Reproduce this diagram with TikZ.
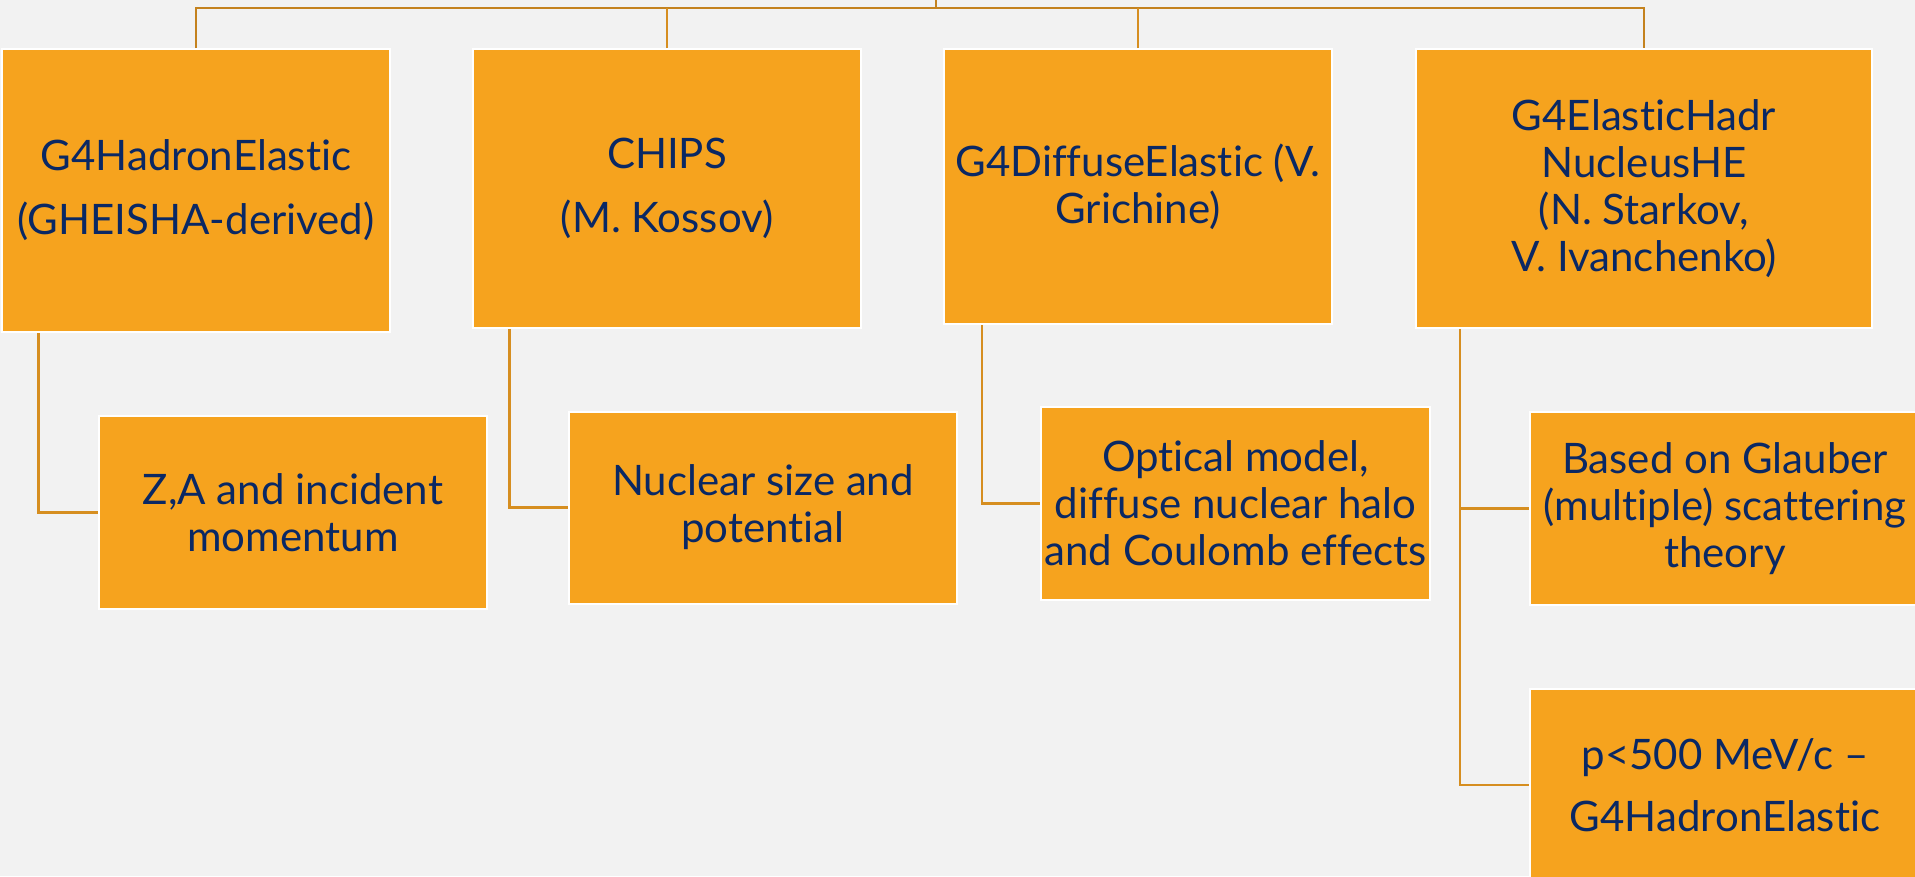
\documentclass[tikz,border=0pt]{standalone}
\usepackage{fontspec}
\setmainfont{Lato}[Ligatures={NoCommon}]
\definecolor{bgc}{RGB}{242,242,242}
\definecolor{boxc}{RGB}{246,163,30}
\definecolor{txtc}{RGB}{10,40,100}
\definecolor{linec}{RGB}{214,142,32}
\definecolor{topc}{RGB}{196,130,30}
\tikzset{
  box/.style={draw=white, line width=2pt, fill=boxc, text=txtc, align=center,
    inner sep=0pt, font=\fontsize{42}{47}\selectfont},
  conn/.style={draw=linec, line width=2.2pt},
  topconn/.style={draw=topc, line width=2.6pt},
}
\begin{document}
\begin{tikzpicture}[x=1pt,y=-1pt]
\fill[bgc] (0,0) rectangle (1915,876);
\useasboundingbox (0,0) rectangle (1915,876);
\clip (0,0) rectangle (1915,876);
% top-level boxes
\node[box, minimum width=388pt, minimum height=283pt] (b1) at (196,190.5)
  {G4HadronElastic\\[17pt](GHEISHA-derived)};
\node[box, minimum width=388pt, minimum height=279pt] (b2) at (667,188.5)
  {CHIPS\\[17pt](M. Kossov)};
\node[box, minimum width=388pt, minimum height=275pt] (b3) at (1138,186.5)
  {G4DiffuseElastic (V.\\Grichine)};
\node[box, minimum width=456pt, minimum height=279pt] (b4) at (1644,188.5)
  {G4ElasticHadr\\NucleusHE\\(N. Starkov,\\V. Ivanchenko)};
% children
\node[box, minimum width=388pt, minimum height=193pt] (c1) at (293,512.5)
  {Z,A and incident\\momentum};
\node[box, minimum width=388pt, minimum height=192pt] (c2) at (763,507.5)
  {Nuclear size and\\potential};
\node[box, minimum width=389pt, minimum height=193pt] (c3) at (1235.5,503.5)
  {Optical model,\\diffuse nuclear halo\\and Coulomb effects};
\node[box, minimum width=390pt, minimum height=193pt] (c4) at (1725,508.5)
  {Based on Glauber\\(multiple) scattering\\theory};
\node[box, minimum width=390pt, minimum height=193pt] (c5) at (1725,785)
  {p<500 MeV/c --\\[15pt]G4HadronElastic};
% top connectors
\coordinate (top) at (936,0);
\coordinate (bar) at (936,8);
\draw[topconn] (top) -- (bar);
\draw[topconn] (b1.north) |- (bar) -| (b4.north);
\draw[conn] (b2.north) -- (b2.north |- bar);
\draw[conn] (b3.north) -- (b3.north |- bar);
% child connectors
\draw[conn] ([xshift=37.5pt]b1.south west) |- (c1.west);
\draw[conn] ([xshift=37.5pt]b2.south west) |- (c2.west);
\draw[conn] ([xshift=39pt]b3.south west) |- (c3.west);
\draw[conn] ([xshift=45pt]b4.south west) |- (c4.west);
\draw[conn] ([xshift=45pt]b4.south west) |- (c5.west);
\end{tikzpicture}
\end{document}
